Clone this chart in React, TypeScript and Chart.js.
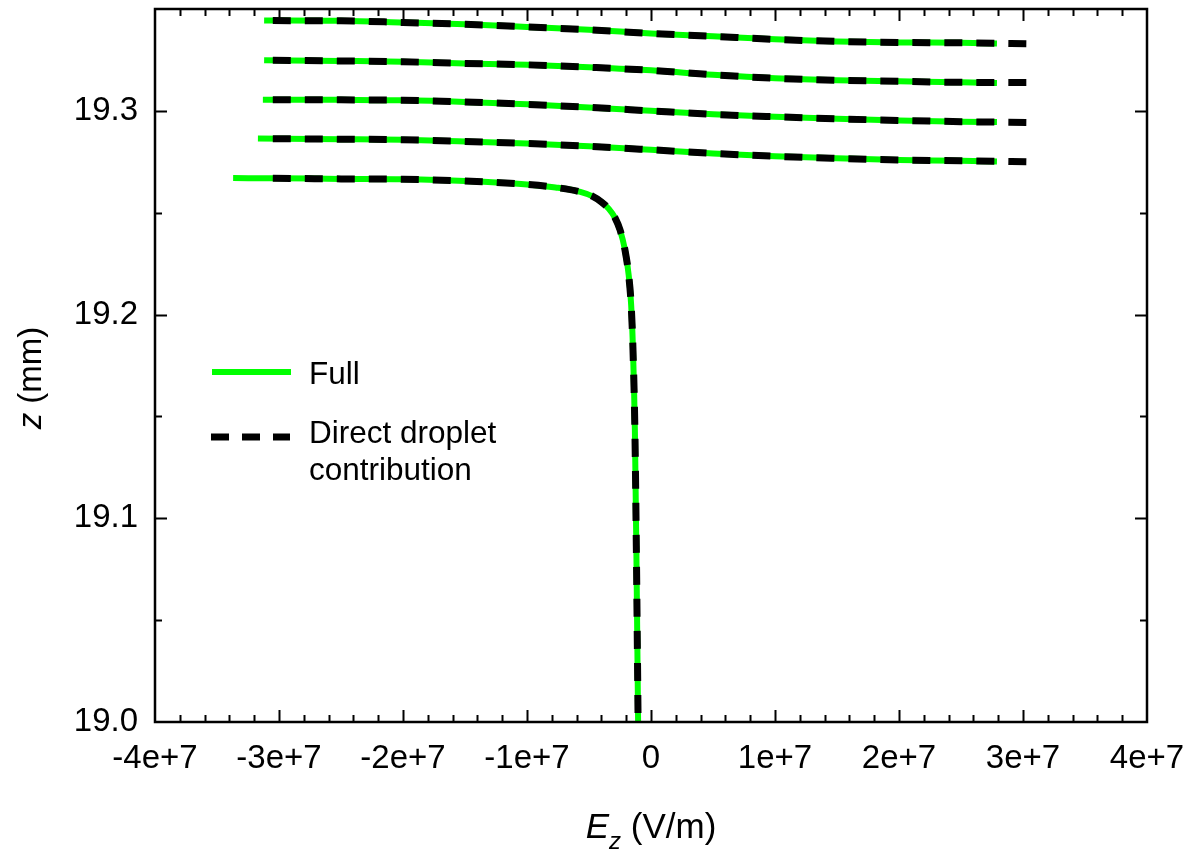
import React, { useEffect, useRef } from 'react';
import { Chart, registerables } from 'chart.js';

Chart.register(...registerables);

// ---- axis ticks ----
const xTickValues = [-4e7, -3e7, -2e7, -1e7, 0, 1e7, 2e7, 3e7, 4e7];
const xTickLabels = ['-4e+7', '-3e+7', '-2e+7', '-1e+7', '0', '1e+7', '2e+7', '3e+7', '4e+7'];
const yTickValues = [19.0, 19.1, 19.2, 19.3];
const yTickLabels = ['19.0', '19.1', '19.2', '19.3'];

// ---- "Full" series (green), one curve per z level ----
const fullA_E = [-3.12e7, -2.5e7, -2.0e7, -1.5e7, -1.0e7, -0.5e7, 0, 0.5e7, 1.0e7, 1.5e7, 2.0e7, 2.5e7, 2.79e7];
const fullA_z = [19.3444, 19.3442, 19.3434, 19.3425, 19.3412, 19.3398, 19.338, 19.3366, 19.3351, 19.3341, 19.3336, 19.3334, 19.3331];
const fullB_E = [-3.12e7, -2.5e7, -2.0e7, -1.5e7, -1.0e7, -0.5e7, 0, 0.5e7, 1.0e7, 1.5e7, 2.0e7, 2.5e7, 2.79e7];
const fullB_z = [19.3249, 19.3245, 19.3241, 19.3233, 19.3226, 19.3214, 19.3199, 19.3177, 19.316, 19.315, 19.3145, 19.314, 19.3137];
const fullC_E = [-3.13e7, -2.5e7, -2.0e7, -1.5e7, -1.0e7, -0.5e7, 0, 0.5e7, 1.0e7, 1.5e7, 2.0e7, 2.5e7, 2.79e7];
const fullC_z = [19.3055, 19.3054, 19.3052, 19.3044, 19.3032, 19.3017, 19.3, 19.2983, 19.2971, 19.2961, 19.2953, 19.2947, 19.2945];
const fullD_E = [-3.17e7, -2.5e7, -2.0e7, -1.5e7, -1.0e7, -0.5e7, 0, 0.5e7, 1.0e7, 1.5e7, 2.0e7, 2.5e7, 2.79e7];
const fullD_z = [19.2864, 19.2861, 19.2858, 19.285, 19.284, 19.2826, 19.2809, 19.2791, 19.2777, 19.2767, 19.2759, 19.2755, 19.2751];
const fullE_E = [-3.37e7, -3.0e7, -2.5e7, -2.0e7, -1.5e7, -1.0e7, -0.77e7, -0.57e7, -0.47e7, -0.40e7, -0.34e7, -0.29e7, -0.25e7, -0.21e7, -0.18e7, -0.16e7, -0.146e7, -0.13e7, -0.118e7, -0.104e7];
const fullE_z = [19.267, 19.2669, 19.2666, 19.2664, 19.2656, 19.2639, 19.2624, 19.2602, 19.258, 19.2553, 19.2519, 19.2475, 19.2416, 19.2318, 19.2194, 19.2047, 19.1841, 19.1434, 19.0845, 19.0];

// ---- "Direct droplet contribution" series (black dashed) ----
const directA_E = [-3.05e7, -2.5e7, -2.0e7, -1.5e7, -1.0e7, -0.5e7, 0, 0.5e7, 1.0e7, 1.5e7, 2.0e7, 2.5e7, 3.03e7];
const directA_z = [19.3443, 19.3442, 19.3434, 19.3425, 19.3412, 19.3398, 19.338, 19.3366, 19.3351, 19.3341, 19.3336, 19.3334, 19.333];
const directB_E = [-3.05e7, -2.5e7, -2.0e7, -1.5e7, -1.0e7, -0.5e7, 0, 0.5e7, 1.0e7, 1.5e7, 2.0e7, 2.5e7, 3.03e7];
const directB_z = [19.3248, 19.3245, 19.3241, 19.3233, 19.3226, 19.3214, 19.3199, 19.3177, 19.316, 19.315, 19.3145, 19.314, 19.3139];
const directC_E = [-3.05e7, -2.5e7, -2.0e7, -1.5e7, -1.0e7, -0.5e7, 0, 0.5e7, 1.0e7, 1.5e7, 2.0e7, 2.5e7, 3.03e7];
const directC_z = [19.3055, 19.3054, 19.3052, 19.3044, 19.3032, 19.3017, 19.3, 19.2983, 19.2971, 19.2961, 19.2953, 19.2947, 19.2943];
const directD_E = [-3.05e7, -2.5e7, -2.0e7, -1.5e7, -1.0e7, -0.5e7, 0, 0.5e7, 1.0e7, 1.5e7, 2.0e7, 2.5e7, 3.03e7];
const directD_z = [19.2863, 19.2861, 19.2858, 19.285, 19.284, 19.2826, 19.2809, 19.2791, 19.2777, 19.2767, 19.2759, 19.2755, 19.275];
const directE_E = [-3.05e7, -2.5e7, -2.0e7, -1.5e7, -1.0e7, -0.77e7, -0.57e7, -0.47e7, -0.40e7, -0.34e7, -0.29e7, -0.25e7, -0.21e7, -0.18e7, -0.16e7, -0.146e7, -0.13e7, -0.118e7, -0.104e7];
const directE_z = [19.2669, 19.2666, 19.2664, 19.2656, 19.2639, 19.2624, 19.2602, 19.258, 19.2553, 19.2519, 19.2475, 19.2416, 19.2318, 19.2194, 19.2047, 19.1841, 19.1434, 19.0845, 19.0];

const FONT = '"Liberation Sans", Arial, Helvetica, sans-serif';
const GREEN = '#00ff00';

const pts = (E: number[], z: number[]) => E.map((e, i) => ({ x: e, y: z[i] }));

const framePlugin = {
  id: 'frame',
  afterDatasetsDraw(chart: any) {
    const { ctx, chartArea, scales } = chart;
    const { left, right, top, bottom } = chartArea;
    const xs = scales.x;
    const ys = scales.y;
    ctx.save();
    ctx.strokeStyle = '#000';
    ctx.setLineDash([]);
    // inward ticks
    ctx.lineWidth = 2;
    ctx.beginPath();
    for (let i = 1; i < 40; i++) {
      const v = -4e7 + i * 2e6;
      const px = Math.round(xs.getPixelForValue(v)) + 0.5;
      const len = i % 5 === 0 ? 12 : 7;
      ctx.moveTo(px, bottom);
      ctx.lineTo(px, bottom - len);
      ctx.moveTo(px, top);
      ctx.lineTo(px, top + len);
    }
    for (let i = 1; i < 7; i++) {
      const v = 19.0 + i * 0.05;
      const py = Math.round(ys.getPixelForValue(v)) + 0.5;
      const len = i % 2 === 0 ? 12 : 7;
      ctx.moveTo(left, py);
      ctx.lineTo(left + len, py);
      ctx.moveTo(right, py);
      ctx.lineTo(right - len, py);
    }
    ctx.stroke();
    // frame
    ctx.lineWidth = 2.5;
    ctx.strokeRect(left, top, right - left, bottom - top);

    // legend
    ctx.lineCap = 'butt';
    ctx.strokeStyle = GREEN;
    ctx.lineWidth = 6;
    ctx.beginPath();
    ctx.moveTo(212, 372);
    ctx.lineTo(291, 372);
    ctx.stroke();
    ctx.strokeStyle = '#000';
    ctx.lineWidth = 7;
    ctx.setLineDash([18, 13]);
    ctx.beginPath();
    ctx.moveTo(211, 437);
    ctx.lineTo(290, 437);
    ctx.stroke();
    ctx.setLineDash([]);
    ctx.fillStyle = '#000';
    ctx.font = `31.5px ${FONT}`;
    ctx.textAlign = 'left';
    ctx.textBaseline = 'alphabetic';
    ctx.fillText('Full', 309, 384);
    ctx.fillText('Direct droplet', 309, 443);
    ctx.fillText('contribution', 309, 480);

    // x title: E_z (V/m)
    const fMain = `35px ${FONT}`;
    const fIt = `italic 35px ${FONT}`;
    const fSub = `italic 24px ${FONT}`;
    ctx.font = fIt;
    const wE = ctx.measureText('E').width;
    ctx.font = fSub;
    const wz = ctx.measureText('z').width;
    ctx.font = fMain;
    const wRest = ctx.measureText(' (V/m)').width;
    const total = wE + wz + wRest;
    let tx = (left + right) / 2 - total / 2;
    const by = 838;
    ctx.font = fIt;
    ctx.fillText('E', tx, by);
    tx += wE;
    ctx.font = fSub;
    ctx.fillText('z', tx, by + 11);
    tx += wz;
    ctx.font = fMain;
    ctx.fillText(' (V/m)', tx, by);

    // y title: z (mm), rotated
    const fMainY = `33px ${FONT}`;
    const fItY = `italic 33px ${FONT}`;
    ctx.save();
    ctx.translate(41, 378);
    ctx.rotate(-Math.PI / 2);
    ctx.font = fItY;
    const wz2 = ctx.measureText('z').width;
    ctx.font = fMainY;
    const wmm = ctx.measureText(' (mm)').width;
    let ty = -(wz2 + wmm) / 2;
    ctx.font = fItY;
    ctx.fillText('z', ty, 0);
    ty += wz2;
    ctx.font = fMainY;
    ctx.fillText(' (mm)', ty, 0);
    ctx.restore();

    ctx.restore();
  },
};

export default function App() {
  const ref = useRef<HTMLCanvasElement>(null);
  useEffect(() => {
    document.body.style.margin = '0';
    const green = (E: number[], z: number[]) => ({
      label: 'Full',
      data: pts(E, z),
      showLine: true,
      borderColor: GREEN,
      backgroundColor: GREEN,
      borderWidth: 6,
      pointRadius: 0,
      cubicInterpolationMode: 'monotone' as const,
      order: 1,
    });
    const dashed = (E: number[], z: number[]) => ({
      label: 'Direct droplet contribution',
      data: pts(E, z),
      showLine: true,
      borderColor: '#000',
      backgroundColor: '#000',
      borderWidth: 7,
      borderDash: [18, 14],
      borderCapStyle: 'butt' as const,
      pointRadius: 0,
      cubicInterpolationMode: 'monotone' as const,
      order: 0,
    });
    const zeroPad = (s: any) => {
      s.paddingTop = 0;
      s.paddingBottom = 0;
      s.paddingLeft = 0;
      s.paddingRight = 0;
    };
    const tickFont = { size: 33, family: FONT };
    const chart = new Chart(ref.current as HTMLCanvasElement, {
      type: 'scatter',
      data: {
        datasets: [
          green(fullA_E, fullA_z),
          green(fullB_E, fullB_z),
          green(fullC_E, fullC_z),
          green(fullD_E, fullD_z),
          green(fullE_E, fullE_z),
          dashed(directA_E, directA_z),
          dashed(directB_E, directB_z),
          dashed(directC_E, directC_z),
          dashed(directD_E, directD_z),
          dashed(directE_E, directE_z),
        ] as any,
      },
      options: {
        animation: false,
        responsive: false,
        layout: { padding: { top: 9, right: 48, left: 0, bottom: 0 } },
        plugins: { legend: { display: false }, tooltip: { enabled: false } },
        scales: {
          x: {
            type: 'linear',
            min: -4e7,
            max: 4e7,
            grid: { display: false, drawTicks: false },
            border: { display: false },
            afterBuildTicks: (s: any) => {
              s.ticks = xTickValues.map((v) => ({ value: v }));
            },
            afterFit: (s: any) => {
              s.height = 130;
              zeroPad(s);
            },
            ticks: {
              font: tickFont,
              color: '#000',
              padding: 17,
              maxRotation: 0,
              autoSkip: false,
              callback: (v: any) => xTickLabels[xTickValues.indexOf(Number(v))] ?? '',
            },
          },
          y: {
            type: 'linear',
            min: 19.0,
            max: 19.35,
            grid: { display: false, drawTicks: false },
            border: { display: false },
            afterBuildTicks: (s: any) => {
              s.ticks = yTickValues.map((v) => ({ value: v }));
            },
            afterFit: (s: any) => {
              s.width = 155;
              zeroPad(s);
            },
            ticks: {
              font: tickFont,
              color: '#000',
              padding: 17,
              autoSkip: false,
              callback: (v: any) => {
                const i = yTickValues.findIndex((t) => Math.abs(t - Number(v)) < 1e-6);
                return i >= 0 ? yTickLabels[i] : '';
              },
            },
          },
        },
      },
      plugins: [framePlugin],
    });
    return () => chart.destroy();
  }, []);
  return (
    <div style={{ position: 'absolute', left: 0, top: 0, width: 1195, height: 852, background: '#fff' }}>
      <canvas ref={ref} width={1195} height={852} style={{ display: 'block' }} />
    </div>
  );
}
